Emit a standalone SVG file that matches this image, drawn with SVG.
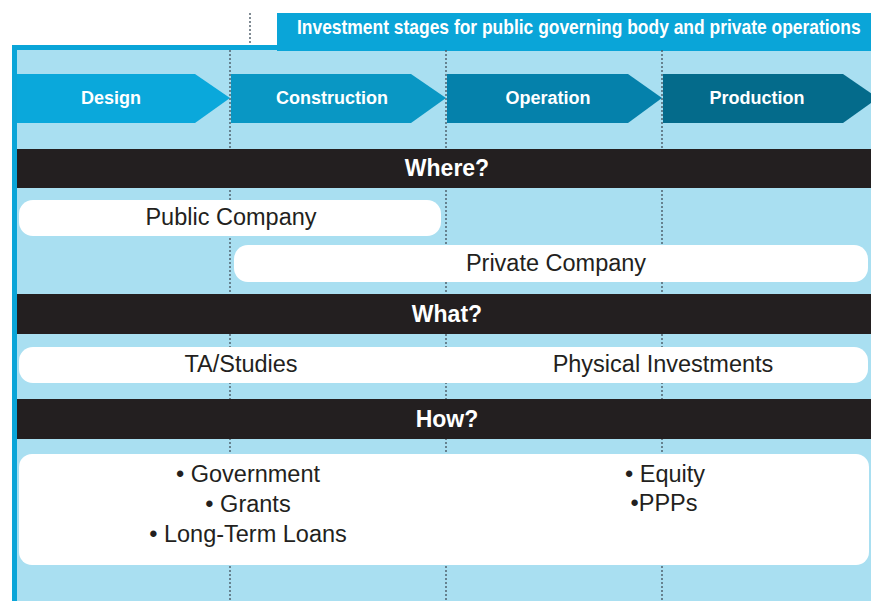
<svg xmlns="http://www.w3.org/2000/svg" width="871" height="601" viewBox="0 0 871 601">
<style>
.guide{stroke:#4a5a66;stroke-width:1.4;stroke-dasharray:2 2;fill:none}
.stage{font-family:"Liberation Sans",Arial,sans-serif;font-weight:bold;font-size:18px;fill:#ffffff;text-anchor:middle}
.bar{fill:#231f20}
.barText{font-family:"Liberation Sans",Arial,sans-serif;font-weight:bold;font-size:23px;fill:#ffffff;text-anchor:middle}
.pill{fill:#ffffff}
.pillText{font-family:"Liberation Sans",Arial,sans-serif;font-size:23.5px;fill:#231f20;text-anchor:middle}
</style>
<rect x="0" y="0" width="871" height="601" fill="#ffffff"/>
<line class="guide" x1="250" y1="13" x2="250" y2="45"/>
<g id="frame">
<rect x="12" y="45" width="870" height="560" fill="#0aa5d8"/>
<rect x="17" y="50" width="860" height="555" fill="#a9dff1"/>
</g>
<g id="title">
<rect x="277" y="13" width="600" height="38" fill="#0aa5d8"/>
<text transform="translate(297,34) scale(0.872,1)" x="0" y="0" font-family="'Liberation Sans',Arial,sans-serif" font-weight="bold" font-size="20" fill="#ffffff">Investment stages for public governing body and private operations</text>
</g>
<g id="connectors">
<line class="guide" x1="230" y1="50" x2="230" y2="601"/>
<line class="guide" x1="446" y1="50" x2="446" y2="601"/>
<line class="guide" x1="662" y1="50" x2="662" y2="601"/>
</g>
<g id="stage-design">
<polygon points="17,74 195,74 230,98 195,123 17,123" fill="#0aa8db"/>
<text class="stage" x="111" y="104">Design</text>
</g>
<g id="stage-construction">
<polygon points="231,74 411,74 446,98 411,123 231,123" fill="#0997c4"/>
<text class="stage" x="332" y="104">Construction</text>
</g>
<g id="stage-operation">
<polygon points="447,74 628,74 662,98 628,123 447,123" fill="#0581ab"/>
<text class="stage" x="548" y="104">Operation</text>
</g>
<g id="stage-production">
<polygon points="663,74 843,74 878,98 843,123 663,123" fill="#046b8b"/>
<text class="stage" x="757" y="104">Production</text>
</g>
<g id="bar-where">
<rect class="bar" x="17" y="149" width="860" height="39"/>
<text class="barText" x="447" y="176">Where?</text>
</g>
<g id="public-company">
<rect class="pill" x="19" y="200" width="422" height="36" rx="14"/>
<text class="pillText" x="231" y="225">Public Company</text>
</g>
<g id="private-company">
<rect class="pill" x="234" y="245" width="634" height="37" rx="14"/>
<text class="pillText" x="556" y="271">Private Company</text>
</g>
<g id="bar-what">
<rect class="bar" x="17" y="294" width="860" height="40"/>
<text class="barText" x="447" y="322">What?</text>
</g>
<g id="what-row">
<rect class="pill" x="19" y="347" width="849" height="36" rx="14"/>
<text class="pillText" x="241" y="372">TA/Studies</text>
<text class="pillText" x="663" y="372">Physical Investments</text>
</g>
<g id="bar-how">
<rect class="bar" x="17" y="399" width="860" height="40"/>
<text class="barText" x="447" y="427">How?</text>
</g>
<g id="how-row">
<rect class="pill" x="19" y="454" width="850" height="111" rx="13"/>
<text class="pillText" x="248" y="482">• Government</text>
<text class="pillText" x="248" y="512">• Grants</text>
<text class="pillText" x="248" y="542">• Long-Term Loans</text>
<text class="pillText" x="665" y="482">• Equity</text>
<text class="pillText" x="664" y="511">•PPPs</text>
</g>
</svg>
